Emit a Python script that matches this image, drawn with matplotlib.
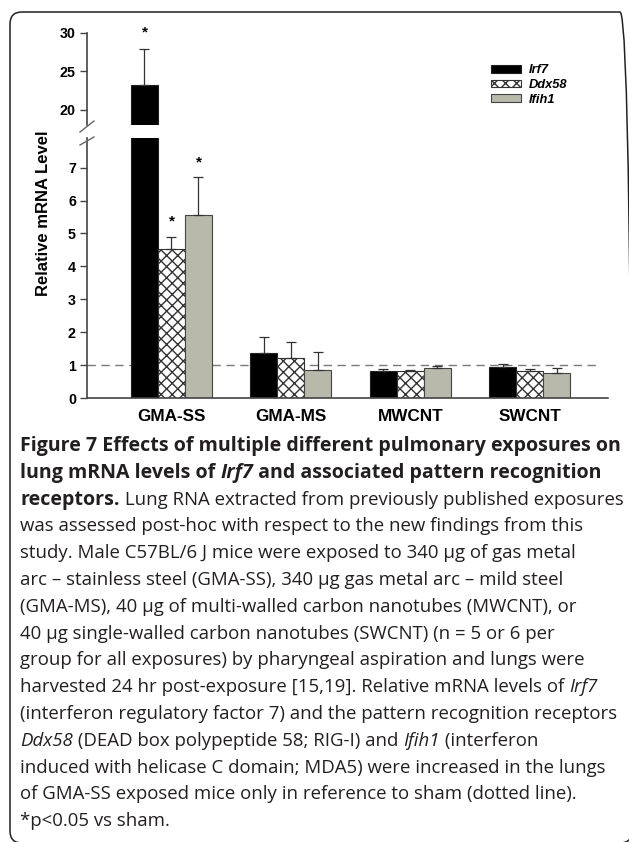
import matplotlib
matplotlib.use("Agg")
import matplotlib.pyplot as plt
import numpy as np
from matplotlib.lines import Line2D
from matplotlib.patches import FancyBboxPatch, Patch

# 数据
groups = ["GMA-SS", "GMA-MS", "MWCNT", "SWCNT"]
genes = ["Irf7", "Ddx58", "Ifih1"]
irf7_mean = [23.2, 1.38, 0.83, 0.93]
irf7_err = [4.7, 0.48, 0.05, 0.10]
ddx58_mean = [4.52, 1.21, 0.82, 0.83]
ddx58_err = [0.38, 0.49, 0.03, 0.05]
ifih1_mean = [5.55, 0.85, 0.92, 0.75]
ifih1_err = [1.17, 0.54, 0.06, 0.15]
irf7_sig = [True, False, False, False]
ddx58_sig = [True, False, False, False]
ifih1_sig = [True, False, False, False]
sham_level = 1.0

W, H = 629, 842
fig = plt.figure(figsize=(W / 100, H / 100), dpi=100)
fig.patch.set_facecolor("white")

CHART_FONT = "Liberation Sans"
AXIS_COLOR = "#444444"


def px_axes(x0, y0, x1, y1):
    """按像素位置（左上角为原点）创建坐标轴"""
    return fig.add_axes([x0 / W, 1 - y1 / H, (x1 - x0) / W, (y1 - y0) / H])


ax_hi = px_axes(87, 33, 608, 125)
ax_lo = px_axes(87, 138, 608, 398)

x = np.arange(len(groups))
width = 0.226
series = [
    (irf7_mean, irf7_err, irf7_sig, dict(color="black", edgecolor="#222222")),
    (ddx58_mean, ddx58_err, ddx58_sig, dict(color="white", edgecolor="#333333", hatch="xxx")),
    (ifih1_mean, ifih1_err, ifih1_sig, dict(color="#b8b9ab", edgecolor="#444444")),
]

for ax in (ax_hi, ax_lo):
    for i, (mean, err, sig, style) in enumerate(series):
        pos = x + (i - 1) * width
        ax.bar(pos, mean, width, linewidth=0.8, zorder=2, **style)
        ax.errorbar(pos, mean, yerr=[np.zeros(len(err)), err], fmt="none",
                    ecolor="#333333", elinewidth=0.9, capsize=3.6, capthick=0.9, zorder=3)

ax_hi.set_ylim(18, 30)
ax_lo.set_ylim(0, 7.9)
xlim = (-0.707, 3.653)
ax_hi.set_xlim(xlim)
ax_lo.set_xlim(xlim)

# 星号标注
for i, (mean, err, sig, style) in enumerate(series):
    for j in range(len(groups)):
        if not sig[j]:
            continue
        top = mean[j] + err[j]
        target = ax_hi if top > 8 else ax_lo
        offset = 2.2 if target is ax_hi else 0.45
        target.text(x[j] + (i - 1) * width, top + offset, "*", ha="center", va="center",
                    fontsize=11, fontweight="bold", family=CHART_FONT, clip_on=False)

# sham 虚线
ax_lo.axhline(sham_level, xmin=0, xmax=0.985, color="#7a7a7a", lw=1.0, ls=(0, (6, 4)), zorder=1)

for ax in (ax_hi, ax_lo):
    for side in ("top", "right"):
        ax.spines[side].set_visible(False)
    ax.spines["left"].set_color(AXIS_COLOR)
    ax.spines["left"].set_linewidth(1.2)
    ax.tick_params(axis="y", direction="out", length=5, width=1, color=AXIS_COLOR, pad=3)

ax_hi.spines["bottom"].set_visible(False)
ax_hi.set_xticks([])
ax_hi.set_yticks([20, 25, 30])
ax_lo.set_yticks(range(0, 8))
ax_lo.spines["bottom"].set_color(AXIS_COLOR)
ax_lo.spines["bottom"].set_linewidth(1.2)
ax_lo.set_xticks(x)
ax_lo.set_xticklabels(groups, fontfamily=CHART_FONT, fontweight="bold", fontsize=12.3)
ax_lo.tick_params(axis="x", length=0, pad=8)
for ax in (ax_hi, ax_lo):
    for lab in ax.get_yticklabels():
        lab.set_fontfamily(CHART_FONT)
        lab.set_fontweight("bold")
        lab.set_fontsize(10.3)

# 断轴标记
for y0, y1 in ((132, 121), (145, 137)):
    fig.add_artist(Line2D([80 / W, 94 / W], [1 - y0 / H, 1 - y1 / H], color="#666666", lw=1.0))

fig.text(44 / W, 1 - 213 / H, "Relative mRNA Level", rotation=90, ha="center", va="center",
         fontsize=12, fontweight="bold", family=CHART_FONT)

# 图例
handles = [Patch(facecolor=s[3]["color"], edgecolor=s[3]["edgecolor"], hatch=s[3].get("hatch"),
                 linewidth=0.8) for s in series]
fig.legend(handles, genes, loc="upper left", bbox_to_anchor=(485 / W, 1 - 58 / H),
           frameon=False, handlelength=2.3, handleheight=0.5, handletextpad=0.6,
           labelspacing=0.2, borderpad=0,
           prop=dict(family=CHART_FONT, weight="bold", style="italic", size=9.3))

# 圆角外框（右边和底边在画布之外）
frame = FancyBboxPatch((0.10, -0.01), 6.22, 8.31,
                       boxstyle="round,pad=0,rounding_size=0.12",
                       transform=fig.dpi_scale_trans, fill=False, edgecolor="#222222", lw=1.1)
fig.add_artist(frame)

# 图注
caption = [
    [("Figure 7 Effects of multiple different pulmonary exposures on", "b")],
    [("lung mRNA levels of ", "b"), ("Irf7", "bi"), (" and associated pattern recognition", "b")],
    [("receptors.", "b"), (" Lung RNA extracted from previously published exposures", "r")],
    [("was assessed post-hoc with respect to the new findings from this", "r")],
    [("study. Male C57BL/6 J mice were exposed to 340 µg of gas metal", "r")],
    [("arc – stainless steel (GMA-SS), 340 µg gas metal arc – mild steel", "r")],
    [("(GMA-MS), 40 µg of multi-walled carbon nanotubes (MWCNT), or", "r")],
    [("40 µg single-walled carbon nanotubes (SWCNT) (n = 5 or 6 per", "r")],
    [("group for all exposures) by pharyngeal aspiration and lungs were", "r")],
    [("harvested 24 hr post-exposure [15,19]. Relative mRNA levels of ", "r"), ("Irf7", "i")],
    [("(interferon regulatory factor 7) and the pattern recognition receptors", "r")],
    [("Ddx58", "i"), (" (DEAD box polypeptide 58; RIG-I) and ", "r"), ("Ifih1", "i"), (" (interferon", "r")],
    [("induced with helicase C domain; MDA5) were increased in the lungs", "r")],
    [("of GMA-SS exposed mice only in reference to sham (dotted line).", "r")],
    [("*p<0.05 vs sham.", "r")],
]
STYLES = {"b": ("bold", "normal"), "bi": ("bold", "italic"), "r": ("normal", "normal"), "i": ("normal", "italic")}
CAP_FONT = "Open Sans"
SIZES = {"bold": 14.1, "normal": 13.45}

renderer = fig.canvas.get_renderer()


def text_width(s, weight, style):
    """测量文字宽度（包括首尾空格）"""
    size = SIZES[weight]
    t1 = fig.text(0, 0, s + "|", fontsize=size, family=CAP_FONT, weight=weight, style=style)
    t2 = fig.text(0, 0, "|", fontsize=size, family=CAP_FONT, weight=weight, style=style)
    w = t1.get_window_extent(renderer).width - t2.get_window_extent(renderer).width
    t1.remove()
    t2.remove()
    return w


for n, parts in enumerate(caption):
    y = 451 + 26.8 * n
    xpos = 20
    for s, key in parts:
        weight, style = STYLES[key]
        fig.text(xpos / W, 1 - y / H, s, fontsize=SIZES[weight], family=CAP_FONT, weight=weight,
                 style=style, va="baseline", ha="left", color="#231f20")
        xpos += text_width(s, weight, style)

fig.savefig("out.png", dpi=100)
